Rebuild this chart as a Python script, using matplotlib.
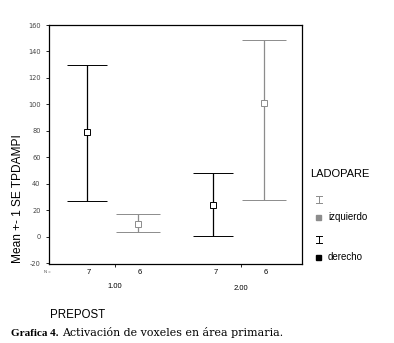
import matplotlib.pyplot as plt
from matplotlib.lines import Line2D
from matplotlib.patches import Rectangle
import numpy as np

# data
groups = ['1.00', '2.00']
derecho_mean = [79, 24]
derecho_lo = [27, 1]
derecho_hi = [130, 48]
derecho_n = [7, 7]
izq_mean = [10, 101]
izq_lo = [4, 28]
izq_hi = [17, 149]
izq_n = [6, 6]
yticks = [-20, 0, 20, 40, 60, 80, 100, 120, 140, 160]

black = '#000000'
grey = '#8c8c8c'

fig = plt.figure(figsize=(3.94, 3.43), dpi=100)
W, H = 394., 343.
ax = fig.add_axes([49/W, 1 - 264/H, 253/W, 239/H])

x = np.arange(1, len(groups) + 1)
off = 0.2

def draw(xs, mean, lo, hi, col, capw):
    mean = np.array(mean)
    yerr = [mean - np.array(lo), np.array(hi) - mean]
    ax.errorbar(xs, mean, yerr=yerr, fmt='s', mfc='white', mec=col, ms=4,
                mew=0.7, ecolor=col, elinewidth=0.9, capsize=capw,
                capthick=0.9, color=col)

draw(x - off, derecho_mean, derecho_lo, derecho_hi, black, 14.5)
draw(x + off, izq_mean, izq_lo, izq_hi, grey, 15.5)

ax.set_xlim(0.5, 2.5)
ax.set_ylim(-20.4, 160)
ax.set_yticks(yticks)
ax.set_yticklabels([str(v) for v in yticks], fontsize=4.8, color='#444444')
ax.set_xticks(x + 0.02)
ax.set_xticklabels([])
ax.tick_params(axis='both', length=2.5, width=0.6, direction='out')
for s in ax.spines.values():
    s.set_linewidth(0.9)

# N row and group labels
font = 'Liberation Sans'
fig.text(47/W, 1 - 272/H, 'N =', fontsize=3, ha='center', va='center', family=font, color='#444444')
for i in range(len(groups)):
    xb = ax.transData.transform((x[i] - off, 0))[0] / W
    xg = ax.transData.transform((x[i] + off, 0))[0] / W
    xc = ax.transData.transform((x[i] + 0.02, 0))[0] / W
    fig.text(xb + 2/W, 1 - 272/H, str(derecho_n[i]), fontsize=5.5, ha='center', va='center', family=font)
    fig.text(xg + 2/W, 1 - 272/H, str(izq_n[i]), fontsize=5.5, ha='center', va='center', family=font)
    fig.text(xc, 1 - (287 + 2*i)/H, groups[i], fontsize=5.5, ha='center', va='center', family=font)

fig.text(18/W, 1 - 199/H, 'Mean +- 1 SE TPDAMPI', rotation=90, fontsize=8.6,
         ha='center', va='center', family=font)
fig.text(50/W, 1 - 315/H, 'PREPOST', fontsize=8.3, ha='left', va='center', family=font)

# legend
fig.text(310/W, 1 - 174/H, 'LADOPARE', fontsize=8, ha='left', va='center', family=font)
leg = [(199, 217, grey, 'izquierdo'), (239, 257, black, 'derecho')]
for ysym, ybox, col, lab in leg:
    xs = 319/W
    y0 = 1 - (ysym - 3.5)/H
    y1 = 1 - (ysym + 3.5)/H
    fig.add_artist(Line2D([xs, xs], [y0, y1], color=col, lw=0.7))
    fig.add_artist(Line2D([xs - 3/W, xs + 3/W], [y0, y0], color=col, lw=0.7))
    fig.add_artist(Line2D([xs - 3/W, xs + 3/W], [y1, y1], color=col, lw=0.7))
    fig.add_artist(Rectangle((316/W, 1 - (ybox + 2.5)/H), 5/W, 5/H, color=col,
                             transform=fig.transFigure))
    fig.text(328/W, 1 - ybox/H, lab, fontsize=7, ha='left', va='center', family=font)

# caption: bold part, then the rest right after it
t1 = fig.text(11/W, 1 - 333/H, 'Grafica 4.', fontsize=8, ha='left', va='center',
              family='Liberation Serif', weight='bold')
fig.canvas.draw()
x_end = t1.get_window_extent().x1
fig.text((x_end + 4)/W, 1 - 333/H, 'Activación de voxeles en área primaria.', fontsize=7.9,
         ha='left', va='center', family='DejaVu Serif')

fig.savefig('out.png', dpi=100)
